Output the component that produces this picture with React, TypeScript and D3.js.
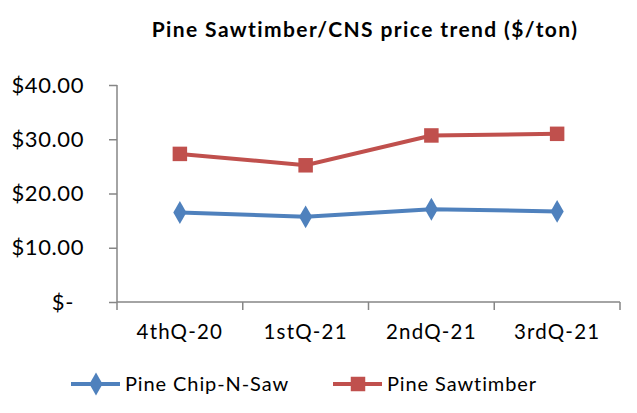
import React, { useEffect, useRef } from 'react';
import * as d3 from 'd3';

const quarters = ['4thQ-20', '1stQ-21', '2ndQ-21', '3rdQ-21'];
const chipNSaw = [16.5, 15.7, 17.1, 16.7];
const sawtimber = [27.3, 25.2, 30.7, 31.0];
const yTicks = [0, 10, 20, 30, 40];

const BLUE = '#4F81BD';
const RED = '#C0504D';
const AXIS = '#868686';
const FONT = 'Lato, "Open Sans", sans-serif';

const Chart: React.FC = () => {
  const svgRef = useRef<SVGSVGElement>(null);

  useEffect(() => {
    if (!svgRef.current) return;
    const svg = d3.select(svgRef.current);
    svg.selectAll('*').remove();

    const x = d3.scaleBand().domain(quarters).range([117, 620]);
    const y = d3.scaleLinear().domain([0, 40]).range([302, 85]);

    // title
    svg
      .append('text')
      .attr('x', 365)
      .attr('y', 37)
      .attr('text-anchor', 'middle')
      .attr('font-family', FONT)
      .attr('font-weight', 'bold')
      .attr('font-size', 21)
      .attr('letter-spacing', 1.4)
      .attr('fill', '#000')
      .text('Pine Sawtimber/CNS  price trend ($/ton)');

    // y axis
    const yAxis = svg
      .append('g')
      .attr('transform', 'translate(117,0)')
      .call(
        d3
          .axisLeft(y)
          .tickValues(yTicks)
          .tickSize(8)
          .tickPadding(25)
          .tickFormat((d) => (+d === 0 ? '$-' : `$${(+d).toFixed(2)}`))
      );
    yAxis.select('.domain').attr('stroke', AXIS).attr('stroke-width', 1.5).attr('d', `M0,${y(40)}V${y(0)}`);
    yAxis.selectAll('.tick line').attr('stroke', AXIS).attr('stroke-width', 1.5);
    yAxis
      .selectAll('.tick text')
      .attr('font-family', FONT)
      .attr('font-size', 22)
      .attr('letter-spacing', 0.6)
      .attr('fill', '#000');
    yAxis
      .selectAll('.tick')
      .filter((d) => d === 0)
      .select('text')
      .attr('dx', -10);

    // x axis
    const xAxis = svg
      .append('g')
      .attr('transform', `translate(0,${y(0)})`)
      .call(d3.axisBottom(x).tickSize(0).tickPadding(22));
    xAxis.select('.domain').attr('stroke', AXIS).attr('stroke-width', 1.5).attr('d', `M${x.range()[0]},0H${x.range()[1]}`);
    xAxis
      .selectAll('.tick text')
      .attr('font-family', FONT)
      .attr('font-size', 20.5)
      .attr('fill', '#000')
      .attr('letter-spacing', 1.2);
    const bounds = [...quarters.map((q) => x(q)!), x.range()[1]];
    xAxis
      .selectAll('.band-tick')
      .data(bounds)
      .enter()
      .append('line')
      .attr('x1', (d) => d)
      .attr('x2', (d) => d)
      .attr('y1', 0)
      .attr('y2', 8)
      .attr('stroke', AXIS)
      .attr('stroke-width', 1.5);

    const cx = (q: string) => x(q)! + x.bandwidth() / 2;
    const line = d3
      .line<number>()
      .x((_, i) => cx(quarters[i]))
      .y((d) => y(d));

    const series = [
      { name: 'Pine Chip-N-Saw', values: chipNSaw, color: BLUE, symbol: d3.symbolDiamond, size: 150 },
      { name: 'Pine Sawtimber', values: sawtimber, color: RED, symbol: d3.symbolSquare, size: 210 },
    ];

    series.forEach((s) => {
      svg
        .append('path')
        .attr('d', line(s.values))
        .attr('fill', 'none')
        .attr('stroke', s.color)
        .attr('stroke-width', 4);
      svg
        .selectAll(null)
        .data(s.values)
        .enter()
        .append('path')
        .attr('d', d3.symbol(s.symbol, s.size)())
        .attr('transform', (d, i) => `translate(${cx(quarters[i])},${y(d)})`)
        .attr('fill', s.color);
    });

    // legend
    const legendX = [71, 333];
    series.forEach((s, i) => {
      const g = svg.append('g').attr('transform', `translate(${legendX[i]},384)`);
      g.append('line')
        .attr('x1', 0)
        .attr('x2', 49)
        .attr('y1', 0)
        .attr('y2', 0)
        .attr('stroke', s.color)
        .attr('stroke-width', 4);
      g.append('path')
        .attr('d', d3.symbol(s.symbol, s.size)())
        .attr('transform', 'translate(25,0)')
        .attr('fill', s.color);
      g.append('text')
        .attr('x', 54)
        .attr('y', 7)
        .attr('font-family', FONT)
        .attr('font-size', 20)
        .attr('letter-spacing', 0.9)
        .attr('fill', '#000')
        .text(s.name);
    });
  }, []);

  return <svg ref={svgRef} width={637} height={413} style={{ display: 'block', background: '#fff' }} />;
};

export default function App() {
  return (
    <div style={{ position: 'absolute', left: 0, top: 0 }}>
      <Chart />
    </div>
  );
}
